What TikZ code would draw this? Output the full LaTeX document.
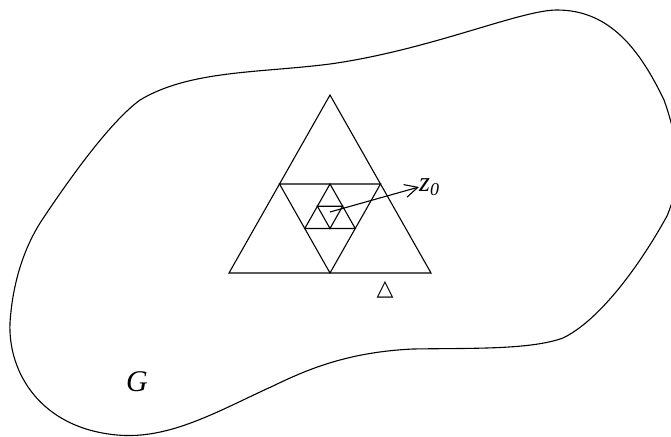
\documentclass[tikz,border=0pt]{standalone}
\usepackage{fontspec}
\setmainfont{Liberation Serif}
\newfontfamily\symfont{DejaVu Sans}
\usetikzlibrary{arrows.meta}
\begin{document}
\begin{tikzpicture}[x=1pt,y=-1pt,
  line/.style={line width=1.1pt, line join=miter},
  curve/.style={line width=1.1pt},
  arr/.style={line width=1.1pt, -{Straight Barb[length=13pt,width=13pt,line width=1.1pt]}},
  lbl/.style={inner sep=0pt, font=\fontsize{30}{32}\selectfont}]
\useasboundingbox (0,0) rectangle (671,436);
\clip (0,0) rectangle (671,436);
% region boundary
\draw[curve] (10,323)
  .. controls (8,372) and (40,428) .. (117,435)
  .. controls (170,440) and (220,410) .. (273,386)
  .. controls (310,368) and (350,352) .. (413,349)
  .. controls (470,348) and (530,350) .. (563,338)
  .. controls (600,320) and (640,265) .. (667,216)
  .. controls (680,185) and (682,150) .. (664,100)
  .. controls (640,50) and (610,10) .. (557,10)
  .. controls (520,10) and (430,50) .. (330,64)
  .. controls (260,73) and (190,70) .. (140,100)
  .. controls (110,122) and (70,178) .. (42,220)
  .. controls (21,252) and (12,290) .. cycle;
% triangles
\coordinate (A) at (330,95);
\coordinate (B) at (229,273);
\coordinate (C) at (431,273);
\draw[line] (A) -- (B) -- (C) -- cycle;
\coordinate (mAB) at (279.5,184);
\coordinate (mAC) at (380.5,184);
\coordinate (mBC) at (330,273);
\draw[line] (mAB) -- (mAC) -- (mBC) -- cycle;
\coordinate (n1) at (330,184);
\coordinate (n2) at (304.75,228.5);
\coordinate (n3) at (355.25,228.5);
\draw[line] (n1) -- (n2) -- (n3) -- cycle;
\coordinate (p1) at (317.4,206.25);
\coordinate (p2) at (342.6,206.25);
\coordinate (p3) at (330,228.5);
\draw[line] (p1) -- (p2) -- (p3) -- cycle;
% arrow and labels
\coordinate (s) at (330,212);
\node[inner sep=0pt, anchor=west, font=\fontsize{28}{30}\selectfont] (z) at (419,187) {\textit{z}{\fontsize{18}{18}\selectfont\raisebox{-4pt}{\textit{0}}}};
\draw[arr] (s) -- (z.west);
\node[inner sep=0pt, font=\symfont\fontsize{22}{22}\selectfont] (tri) at (385,290) {△};
\node[lbl] (G) at (137,382) {\textit{G}};
\end{tikzpicture}
\end{document}
